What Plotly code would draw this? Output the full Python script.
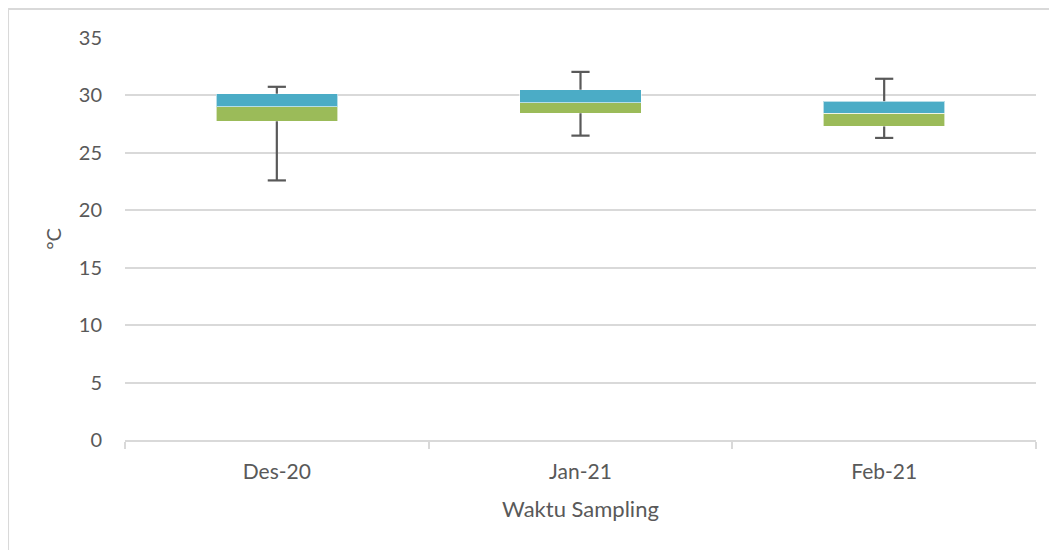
import plotly.graph_objects as go

categories = ["Des-20", "Jan-21", "Feb-21"]
minimum = [22.6, 26.5, 26.3]
q1 = [27.75, 28.45, 27.3]
median = [29.0, 29.35, 28.45]
q3 = [30.15, 30.5, 29.5]
maximum = [30.75, 32.05, 31.45]
y_ticks = [0, 5, 10, 15, 20, 25, 30, 35]

GREEN = "#9BBB59"
BLUE = "#4BACC6"
WHISK = "#595959"
GRID = "#D9D9D9"
TXT = "#595959"
FONT = "Lato"
FS = 20

fig = go.Figure()
fig.add_trace(go.Bar(x=categories, y=q1,
                     marker=dict(color="rgba(0,0,0,0)", line=dict(width=0)),
                     hoverinfo="skip", showlegend=False))
fig.add_trace(go.Bar(x=categories, y=[m - a for m, a in zip(median, q1)],
                     marker=dict(color=GREEN, line=dict(color="rgba(255,255,255,0.6)", width=1)),
                     showlegend=False))
fig.add_trace(go.Bar(x=categories, y=[b - m for b, m in zip(q3, median)],
                     marker=dict(color=BLUE, line=dict(color="rgba(255,255,255,0.6)", width=1)),
                     showlegend=False))

wx, wy = [], []
for c, lo, a, b, hi in zip(categories, minimum, q1, q3, maximum):
    wx += [c, c, None, c, c, None]
    wy += [lo, a, None, b, hi, None]
fig.add_trace(go.Scatter(x=wx, y=wy, mode="lines", line=dict(color=WHISK, width=2.2),
                         showlegend=False, hoverinfo="skip"))
fig.add_trace(go.Scatter(x=categories + categories, y=minimum + maximum, mode="markers",
                         marker=dict(symbol="line-ew", size=13,
                                     line=dict(color=WHISK, width=2.2)),
                         showlegend=False))

fig.update_layout(
    width=1057, height=550,
    margin=dict(l=117, r=29, t=30, b=118),
    barmode="stack", bargap=0.6,
    plot_bgcolor="white", paper_bgcolor="white",
    font=dict(family=FONT, color=TXT, size=FS),
    xaxis=dict(showgrid=False, showline=True, linecolor=GRID, linewidth=1.5,
               ticks="outside", tickson="boundaries", ticklen=7, tickcolor=GRID,
               tickwidth=1.5, tickfont=dict(size=21, color=TXT), ticklabelstandoff=12,
               automargin=False,
               title=dict(text="Waktu Sampling", font=dict(size=22, color=TXT), standoff=20)),
    yaxis=dict(range=[0, 35], tickvals=y_ticks, showgrid=True, gridcolor=GRID,
               gridwidth=1.5, zeroline=False, showline=False, ticks="",
               automargin=False,
               tickfont=dict(size=FS, color=TXT), ticklabelstandoff=22,
               title=dict(text="°C", font=dict(size=FS, color=TXT), standoff=11)),
    shapes=[
        dict(type="line", xref="paper", yref="paper", x0=-0.1284, x1=1.05,
             y0=1.0721, y1=1.0721, line=dict(color=GRID, width=2)),
        dict(type="line", xref="paper", yref="paper", x0=-0.1284, x1=-0.1284,
             y0=1.0721, y1=-0.3, line=dict(color=GRID, width=2)),
    ],
)

fig.write_html("out.html")
